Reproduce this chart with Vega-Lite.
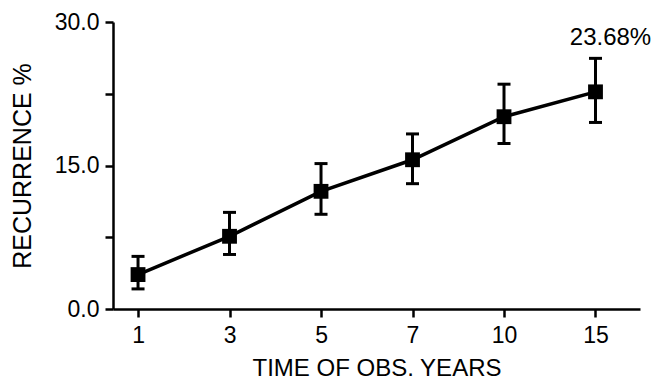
{
  "$schema": "https://vega.github.io/schema/vega-lite/v6.json",
  "autosize": {"type": "none"},
  "padding": {"left": 113, "top": 22, "right": 21, "bottom": 78},
  "width": 527,
  "height": 287,
  "background": "white",
  "config": {
    "view": {"stroke": null},
    "font": "Liberation Sans",
    "axis": {
      "domainColor": "black",
      "domainWidth": 2.5,
      "tickColor": "black",
      "tickWidth": 2.5,
      "tickSize": 8,
      "labelColor": "black",
      "titleColor": "black",
      "grid": false,
      "labelFont": "Liberation Sans",
      "titleFont": "Liberation Sans",
      "titleFontWeight": "normal"
    }
  },
  "data": {
    "values": [
      {"t": 1, "v": 3.6, "lo": 2.1, "hi": 5.5, "label": ""},
      {"t": 3, "v": 7.6, "lo": 5.7, "hi": 10.1, "label": ""},
      {"t": 5, "v": 12.3, "lo": 9.9, "hi": 15.2, "label": ""},
      {"t": 7, "v": 15.6, "lo": 13.1, "hi": 18.3, "label": ""},
      {"t": 10, "v": 20.1, "lo": 17.3, "hi": 23.5, "label": ""},
      {"t": 15, "v": 22.7, "lo": 19.5, "hi": 26.2, "label": "23.68%"}
    ]
  },
  "encoding": {
    "x": {
      "field": "t",
      "type": "ordinal",
      "scale": {"type": "point", "domain": [1, 3, 5, 7, 10, 15], "padding": 0.38, "align": 0.36},
      "axis": {
        "title": "TIME OF OBS. YEARS",
        "labelAngle": 0,
        "labelFontSize": 23,
        "labelPadding": 7,
        "titleFontSize": 24,
        "titlePadding": 9
      }
    }
  },
  "layer": [
    {
      "mark": {"type": "rule", "color": "black", "strokeWidth": 3},
      "encoding": {
        "y": {
          "field": "lo",
          "type": "quantitative",
          "scale": {"domain": [0, 30], "nice": false},
          "axis": {
            "title": "RECURRENCE %",
            "values": [0, 7.5, 15, 22.5, 30],
            "labelExpr": "datum.value % 15 == 0 ? format(datum.value, '.1f') : ''",
            "labelFontSize": 23,
            "labelPadding": 6,
            "titleFontSize": 25,
            "titlePadding": 19
          }
        },
        "y2": {"field": "hi"}
      }
    },
    {
      "mark": {"type": "tick", "color": "black", "size": 13, "thickness": 3, "opacity": 1},
      "encoding": {"y": {"field": "lo", "type": "quantitative"}}
    },
    {
      "mark": {"type": "tick", "color": "black", "size": 13, "thickness": 3, "opacity": 1},
      "encoding": {"y": {"field": "hi", "type": "quantitative"}}
    },
    {
      "mark": {"type": "line", "color": "black", "strokeWidth": 3.5},
      "encoding": {"y": {"field": "v", "type": "quantitative"}}
    },
    {
      "mark": {"type": "point", "shape": "square", "filled": true, "color": "black", "size": 220, "opacity": 1},
      "encoding": {"y": {"field": "v", "type": "quantitative"}}
    },
    {
      "mark": {"type": "text", "color": "black", "fontSize": 24, "baseline": "bottom", "dx": 15, "dy": -8},
      "encoding": {
        "y": {"field": "hi", "type": "quantitative"},
        "text": {"field": "label"}
      }
    }
  ]
}
